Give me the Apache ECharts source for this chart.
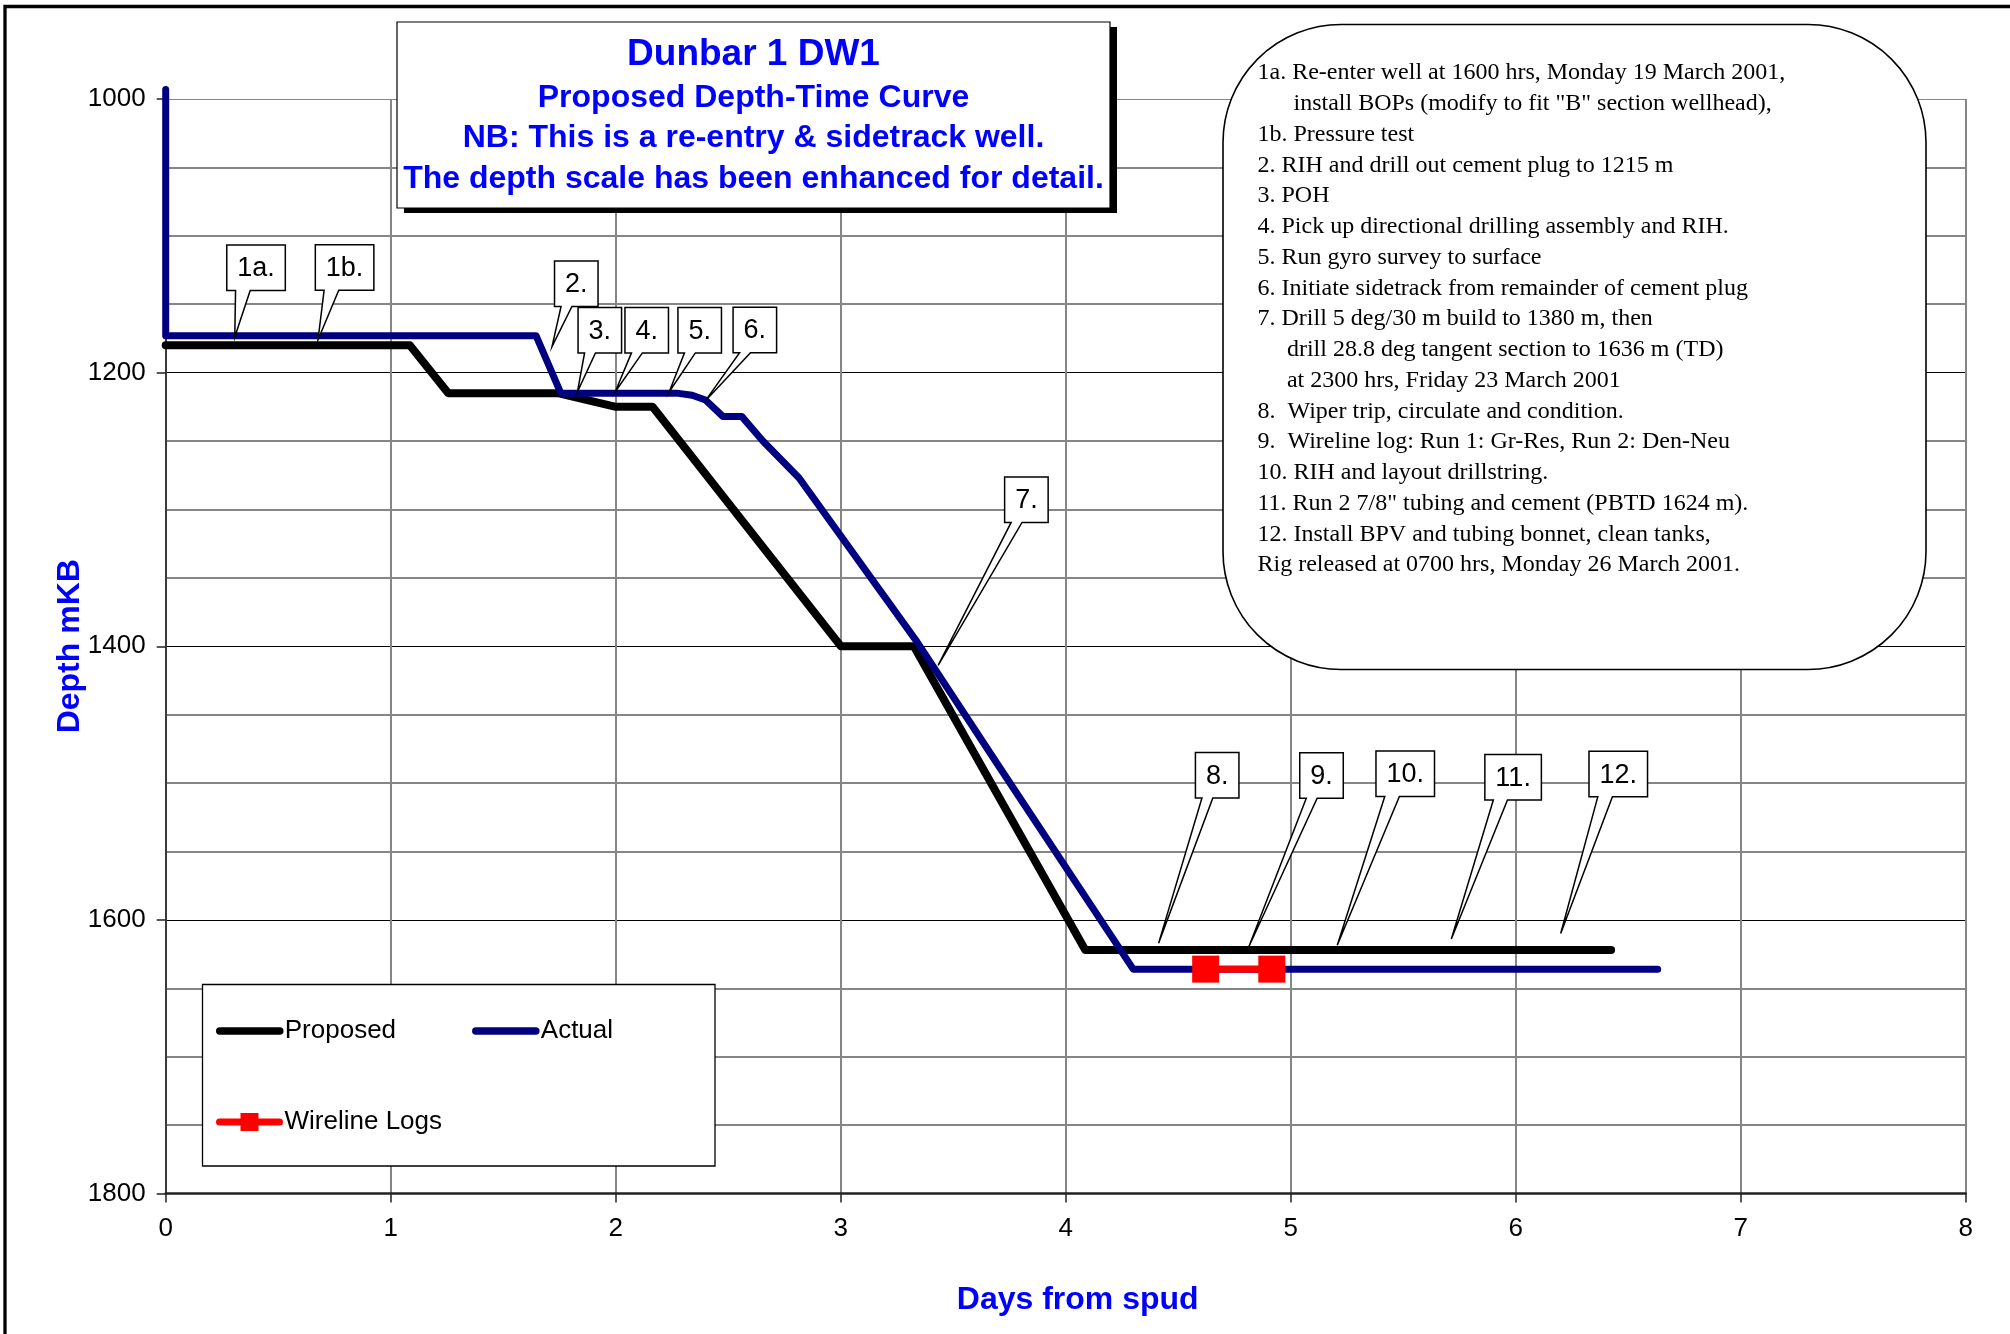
<!DOCTYPE html>
<html>
<head>
<meta charset="utf-8">
<script src="https://cdn.jsdelivr.net/npm/echarts@6/dist/echarts.min.js"></script>
<style>
html,body{margin:0;padding:0;background:#fff;}
#chart{width:2010px;height:1334px;}
</style>
</head>
<body>
<div id="chart"></div>
<script>
// ---------------- DATA ----------------
const proposedDays   = [0, 1.085, 1.256, 1.743, 2.001, 2.164, 3.001, 3.325, 4.087, 6.424];
const proposedDepths = [1180, 1180, 1215, 1215, 1225, 1225, 1400, 1400, 1622, 1622];

const actualDays   = [0, 0, 1.646, 1.756, 2.271, 2.34, 2.399, 2.476, 2.560, 2.654, 2.815, 3.34, 3.70, 4.30, 6.631];
const actualDepths = [993, 1173, 1173, 1215, 1215, 1216.5, 1220, 1232, 1232, 1250, 1277, 1397, 1487, 1636, 1636];

const wirelineDays   = [4.622, 4.916];
const wirelineDepths = [1636, 1636];

const calloutLabels = ['1a.', '1b.', '2.', '3.', '4.', '5.', '6.', '7.', '8.', '9.', '10.', '11.', '12.'];
const calloutDays   = [0.307, 0.677, 1.717, 1.830, 1.998, 2.238, 2.399, 3.433, 4.413, 4.814, 5.207, 5.714, 6.20];
const calloutDepths = [1174, 1176, 1181, 1214, 1214, 1214, 1220.5, 1414, 1617, 1619.6, 1618.6, 1614, 1610];

const xTickLabels = ['0', '1', '2', '3', '4', '5', '6', '7', '8'];
const yTickLabels = ['1000', '1200', '1400', '1600', '1800'];

const seriesNames = ['Proposed', 'Actual', 'Wireline Logs'];
const xAxisTitle = 'Days from spud';
const yAxisTitle = 'Depth mKB';

const titleLines = [
  'Dunbar 1 DW1',
  'Proposed Depth-Time Curve',
  'NB: This is a re-entry & sidetrack well.',
  'The depth scale has been enhanced for detail.'
];

const noteLines = [
  '1a. Re-enter well at 1600 hrs, Monday 19 March 2001,',
  'install BOPs (modify to fit "B" section wellhead),',
  '1b. Pressure test',
  '2. RIH and drill out cement plug to 1215 m',
  '3. POH',
  '4. Pick up directional drilling assembly and RIH.',
  '5. Run gyro survey to surface',
  '6. Initiate sidetrack from remainder of cement plug',
  '7. Drill 5 deg/30 m build to 1380 m, then',
  'drill 28.8 deg tangent section to 1636 m (TD)',
  'at 2300 hrs, Friday 23 March 2001',
  '8.  Wiper trip, circulate and condition.',
  '9.  Wireline log: Run 1: Gr-Res, Run 2: Den-Neu',
  '10. RIH and layout drillstring.',
  '11. Run 2 7/8" tubing and cement (PBTD 1624 m).',
  '12. Install BPV and tubing bonnet, clean tanks,',
  'Rig released at 0700 hrs, Monday 26 March 2001.'
];

// ---------------- LAYOUT / STYLE ----------------
const SANS = "'Liberation Sans', Arial, sans-serif";
const SERIF = "'Liberation Serif', 'Times New Roman', serif";
const TEXT_BLUE = '#0000ff';
const noteIndent = [0, 36, 0, 0, 0, 0, 0, 0, 0, 29.4, 29.4, 0, 0, 0, 0, 0, 0];
// pixel offsets of each callout box's top-left corner from its pointer tip
const calloutBoxOffsets = [
  [-8, -92], [-2.7, -95], [2.5, -85.7], [0.6, -84.4], [9.7, -84.4], [8.7, -84.4], [27.6, -93.4],
  [66.5, -188.5], [36.8, -190.6], [50.9, -193.9], [38.7, -194.3], [33.5, -184.6], [28.3, -182.2]
];

const zip = (a, b) => a.map((v, i) => [v, b[i]]);
const measureCtx = document.createElement('canvas').getContext('2d');
function textWidth(s, font) { measureCtx.font = font; return measureCtx.measureText(s).width; }

const CALLOUT_FONT = '27px ' + SANS;

function renderCallout(params, api) {
  const i = params.dataIndex;
  const tip = api.coord([api.value(0), api.value(1)]);
  const off = calloutBoxOffsets[i];
  const label = calloutLabels[i];
  const w = textWidth(label, CALLOUT_FONT) + 21;
  const h = 45.5;
  const x0 = tip[0] + off[0];
  const y0 = tip[1] + off[1];
  const b1 = x0 + 0.15 * w;
  const b2 = x0 + 0.40 * w;
  return {
    type: 'group',
    children: [
      {
        type: 'polygon',
        shape: { points: [[x0, y0], [x0 + w, y0], [x0 + w, y0 + h], [b2, y0 + h], [tip[0], tip[1]], [b1, y0 + h], [x0, y0 + h]] },
        style: { fill: '#ffffff', stroke: '#000000', lineWidth: 1.5 }
      },
      {
        type: 'text',
        x: x0 + w / 2,
        y: y0 + h / 2 + 1,
        style: { text: label, fill: '#000', font: CALLOUT_FONT, align: 'center', verticalAlign: 'middle', textAlign: 'center', textVerticalAlign: 'middle' }
      }
    ]
  };
}

const graphics = [];
// outer frame
graphics.push({ type: 'rect', z: 100, silent: true, shape: { x: 5, y: 6.5, width: 2100, height: 1400 }, style: { fill: null, stroke: '#000', lineWidth: 3.3 } });
// title box with shadow
graphics.push({ type: 'rect', z: 20, silent: true, shape: { x: 404, y: 27, width: 713, height: 186 }, style: { fill: '#000' } });
graphics.push({ type: 'rect', z: 21, silent: true, shape: { x: 397, y: 22, width: 713, height: 186 }, style: { fill: '#fff', stroke: '#000', lineWidth: 1.2 } });
const titleSizes = [37, 32, 32, 32];
const titleYs = [55, 98, 138, 179];
titleLines.forEach((t, i) => {
  graphics.push({ type: 'text', z: 22, silent: true, x: 753.5, y: titleYs[i],
    style: { text: t, fill: TEXT_BLUE, font: 'bold ' + titleSizes[i] + 'px ' + SANS, align: 'center', verticalAlign: 'middle', textAlign: 'center', textVerticalAlign: 'middle' } });
});
// note box
graphics.push({ type: 'rect', z: 20, silent: true, shape: { x: 1223, y: 24.5, width: 703, height: 645, r: 118 }, style: { fill: '#fff', stroke: '#000', lineWidth: 1.6 } });
noteLines.forEach((t, i) => {
  graphics.push({ type: 'text', z: 22, silent: true, x: 1257.5 + noteIndent[i], y: 73 + i * 30.76,
    style: { text: t, fill: '#000', font: '24px ' + SERIF, align: 'left', verticalAlign: 'middle', textAlign: 'left', textVerticalAlign: 'middle' } });
});
// legend frame
graphics.push({ type: 'rect', z: 3, silent: true, shape: { x: 202.5, y: 984.5, width: 512.5, height: 181.5 }, style: { fill: '#fff', stroke: '#000', lineWidth: 1.3 } });

const legendText = { fontSize: 26, fontFamily: SANS, color: '#000', lineHeight: 30 };

const option = {
  animation: false,
  backgroundColor: '#ffffff',
  grid: { left: 165.7, right: 44.3, top: 99, bottom: 140.5, containLabel: false, outerBoundsMode: 'none' },
  xAxis: {
    type: 'value', min: 0, max: 8, interval: 1,
    axisLine: { show: true, onZero: false, lineStyle: { color: '#222', width: 2.5 } },
    axisTick: { show: true, length: 9, lineStyle: { color: '#222', width: 1.5 } },
    axisLabel: { fontSize: 26, fontFamily: SANS, color: '#000', margin: 22, formatter: v => xTickLabels[Math.round(v)] },
    splitLine: { show: true, lineStyle: { color: '#868686', width: 2 } },
    name: xAxisTitle, nameLocation: 'middle', nameGap: 91,
    nameTextStyle: { color: TEXT_BLUE, fontWeight: 'bold', fontSize: 32, fontFamily: SANS, padding: [0, 0, 0, 24] }
  },
  yAxis: {
    type: 'value', inverse: true, min: 1000, max: 1800, interval: 200,
    axisLine: { show: true, lineStyle: { color: '#222', width: 1.5 } },
    axisTick: { show: true, length: 9, lineStyle: { color: '#222', width: 1.5 } },
    axisLabel: { fontSize: 26, fontFamily: SANS, color: '#000', margin: 20, formatter: v => yTickLabels[Math.round((v - 1000) / 200)] },
    splitLine: { show: true, lineStyle: { color: ['#868686', '#000', '#000', '#000', '#555'], width: 1.2 } },
    minorTick: { show: false, splitNumber: 4 },
    minorSplitLine: { show: true, lineStyle: { color: '#868686', width: 2 } },
    name: yAxisTitle, nameLocation: 'middle', nameGap: 80, nameRotate: 90, nameMoveOverlap: false,
    nameTextStyle: { color: TEXT_BLUE, fontWeight: 'bold', fontSize: 32, fontFamily: SANS }
  },
  legend: [
    { data: [seriesNames[0], seriesNames[1]], left: 216, top: 1016, orient: 'horizontal', padding: 0,
      itemWidth: 60, itemHeight: 22.5, itemGap: 76, selectedMode: false,
      itemStyle: { opacity: 0 },
      lineStyle: { width: 7.5, cap: 'round' }, textStyle: legendText },
    { data: [seriesNames[2]], left: 216, top: 1107, orient: 'horizontal', padding: 0,
      itemWidth: 60, itemHeight: 22.5, itemGap: 76, selectedMode: false,
      lineStyle: { width: 7, cap: 'round' }, textStyle: legendText }
  ],
  series: [
    { name: seriesNames[0], type: 'line', data: zip(proposedDays, proposedDepths), symbol: 'none', z: 3,
      lineStyle: { color: '#000000', width: 8, cap: 'round', join: 'round' }, itemStyle: { color: '#000000' } },
    { name: seriesNames[1], type: 'line', data: zip(actualDays, actualDepths), symbol: 'none', z: 4, clip: false,
      lineStyle: { color: '#000080', width: 7, cap: 'round', join: 'round' }, itemStyle: { color: '#000080' } },
    { name: seriesNames[2], type: 'line', data: zip(wirelineDays, wirelineDepths), symbol: 'rect', symbolSize: 27, z: 5,
      lineStyle: { color: '#ff0000', width: 7 }, itemStyle: { color: '#ff0000' } },
    { name: 'callouts', type: 'custom', coordinateSystem: 'cartesian2d', silent: true, z: 10, clip: false,
      data: zip(calloutDays, calloutDepths), renderItem: renderCallout }
  ],
  graphic: graphics
};

const chart = echarts.init(document.getElementById('chart'), null, { renderer: 'canvas' });
chart.setOption(option);
</script>
</body>
</html>
